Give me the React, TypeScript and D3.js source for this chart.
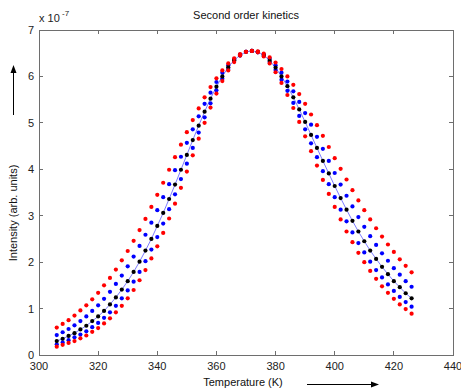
import * as d3 from "d3";

// temperature grid (K)
const temperature = [
  306, 308, 310, 312, 314, 316, 318, 320, 322, 324, 326, 328, 330, 332, 334, 336,
  338, 340, 342, 344, 346, 348, 350, 352, 354, 356, 358, 360, 362, 364, 366, 368,
  370, 372, 374, 376, 378, 380, 382, 384, 386, 388, 390, 392, 394, 396, 398, 400,
  402, 404, 406, 408, 410, 412, 414, 416, 418, 420, 422, 424, 426,
];

// intensities, in units of 1e-7
const redWide = [
  0.59, 0.67, 0.75, 0.85, 0.96, 1.07, 1.2, 1.34, 1.5, 1.66, 1.84, 2.04, 2.24, 2.46, 2.69, 2.93,
  3.19, 3.45, 3.71, 3.99, 4.26, 4.53, 4.8, 5.06, 5.31, 5.55, 5.77, 5.96, 6.13, 6.28, 6.39, 6.48,
  6.53, 6.55, 6.54, 6.49, 6.41, 6.3, 6.16, 6.0, 5.82, 5.62, 5.41, 5.18, 4.95, 4.72, 4.48, 4.24,
  4.01, 3.78, 3.55, 3.33, 3.12, 2.92, 2.73, 2.55, 2.38, 2.22, 2.06, 1.92, 1.78,
];
const blueWide = [
  0.43, 0.49, 0.56, 0.64, 0.73, 0.83, 0.95, 1.07, 1.21, 1.36, 1.53, 1.71, 1.91, 2.12, 2.35, 2.59,
  2.85, 3.12, 3.4, 3.68, 3.98, 4.27, 4.57, 4.86, 5.14, 5.41, 5.65, 5.88, 6.08, 6.24, 6.37, 6.47,
  6.53, 6.55, 6.53, 6.47, 6.38, 6.24, 6.08, 5.89, 5.68, 5.45, 5.21, 4.96, 4.7, 4.44, 4.18, 3.92,
  3.67, 3.43, 3.2, 2.97, 2.76, 2.56, 2.37, 2.19, 2.03, 1.87, 1.73, 1.59, 1.47,
];
const blackMid = [
  0.3, 0.35, 0.41, 0.47, 0.55, 0.63, 0.73, 0.83, 0.95, 1.09, 1.24, 1.41, 1.59, 1.79, 2.01, 2.25,
  2.5, 2.78, 3.06, 3.36, 3.67, 3.99, 4.31, 4.63, 4.94, 5.24, 5.52, 5.78, 6.0, 6.2, 6.35, 6.46,
  6.53, 6.55, 6.53, 6.46, 6.34, 6.19, 6.0, 5.79, 5.55, 5.29, 5.02, 4.74, 4.46, 4.18, 3.91, 3.64,
  3.38, 3.13, 2.89, 2.66, 2.45, 2.25, 2.07, 1.9, 1.74, 1.59, 1.46, 1.33, 1.22,
];
const blueNarrow = [
  0.23, 0.27, 0.32, 0.38, 0.44, 0.51, 0.6, 0.69, 0.8, 0.92, 1.06, 1.22, 1.39, 1.58, 1.79, 2.02,
  2.27, 2.54, 2.83, 3.14, 3.46, 3.79, 4.12, 4.46, 4.79, 5.12, 5.42, 5.7, 5.95, 6.16, 6.33, 6.45,
  6.53, 6.55, 6.52, 6.44, 6.31, 6.14, 5.93, 5.69, 5.43, 5.15, 4.86, 4.56, 4.26, 3.96, 3.68, 3.4,
  3.13, 2.88, 2.64, 2.41, 2.21, 2.01, 1.83, 1.67, 1.52, 1.38, 1.25, 1.14, 1.04,
];
const redNarrow = [
  0.18, 0.22, 0.26, 0.3, 0.36, 0.42, 0.5, 0.58, 0.68, 0.79, 0.92, 1.06, 1.22, 1.4, 1.61, 1.83,
  2.08, 2.34, 2.63, 2.94, 3.26, 3.6, 3.95, 4.3, 4.66, 5.0, 5.33, 5.63, 5.9, 6.13, 6.31, 6.45,
  6.53, 6.55, 6.52, 6.43, 6.28, 6.09, 5.86, 5.6, 5.32, 5.02, 4.71, 4.39, 4.08, 3.77, 3.47, 3.19,
  2.92, 2.66, 2.43, 2.2, 2.0, 1.81, 1.64, 1.48, 1.34, 1.21, 1.09, 0.99, 0.89,
];

const xTicks = [300, 320, 340, 360, 380, 400, 420, 440];
const yTicks = [0, 1, 2, 3, 4, 5, 6, 7];

// draw order: blue under black under red
const series = [
  { values: blueWide, color: "#0000ff" },
  { values: blueNarrow, color: "#0000ff" },
  { values: blackMid, color: "#000000" },
  { values: redWide, color: "#ff0000" },
  { values: redNarrow, color: "#ff0000" },
];

const W = 461;
const H = 392;
const left = 39, right = 453, top = 30, bottom = 355;
const font = "'Liberation Sans', Arial, Helvetica, sans-serif";

export default function App() {
  const x = d3.scaleLinear().domain([300, 440]).range([left, right]);
  const y = d3.scaleLinear().domain([0, 7]).range([bottom, top]);

  const fitLine = d3
    .line<number>()
    .x((_, i) => x(temperature[i]))
    .y((d) => y(d));

  const tl = 4;

  return (
    <svg
      width={W}
      height={H}
      style={{ position: "absolute", left: 0, top: 0, background: "#fff" }}
      fontFamily={font}
    >
      <rect x={0} y={0} width={W} height={H} fill="#fff" />

      {/* thin line through the middle curve */}
      <path d={fitLine(blackMid) || ""} fill="none" stroke="#5a5aff" strokeWidth={0.8} />

      {series.map((s, si) => (
        <g key={si} fill={s.color}>
          {s.values.map((v, i) => (
            <circle key={i} cx={x(temperature[i])} cy={y(v)} r={2.1} />
          ))}
        </g>
      ))}

      {/* box */}
      <rect
        x={left}
        y={top}
        width={right - left}
        height={bottom - top}
        fill="none"
        stroke="#6e6e6e"
        strokeWidth={1}
        shapeRendering="crispEdges"
      />

      {/* ticks, inward on all four sides */}
      <g stroke="#6e6e6e" shapeRendering="crispEdges">
        {xTicks.map((t) => (
          <g key={t}>
            <line x1={x(t)} x2={x(t)} y1={bottom} y2={bottom - tl} />
            <line x1={x(t)} x2={x(t)} y1={top} y2={top + tl} />
          </g>
        ))}
        {yTicks.map((t) => (
          <g key={t}>
            <line x1={left} x2={left + tl} y1={y(t)} y2={y(t)} />
            <line x1={right} x2={right - tl} y1={y(t)} y2={y(t)} />
          </g>
        ))}
      </g>

      <g fontSize={11} fill="#222">
        {xTicks.map((t) => (
          <text key={t} x={x(t)} y={370} textAnchor="middle">
            {t}
          </text>
        ))}
        {yTicks.map((t) => (
          <text key={t} x={left - 5} y={y(t) + 4} textAnchor="end">
            {t}
          </text>
        ))}
      </g>

      {/* exponent */}
      <text x={39} y={22} fontSize={11} fill="#222">
        x 10
      </text>
      <text x={62} y={16} fontSize={8} fill="#222">
        -7
      </text>

      {/* title */}
      <text x={246} y={19} fontSize={11} textAnchor="middle" fill="#111">
        Second order kinetics
      </text>

      {/* x label + arrow */}
      <text x={243} y={386} fontSize={11} textAnchor="middle" fill="#111">
        Temperature (K)
      </text>
      <line x1={307} x2={372} y1={384.5} y2={384.5} stroke="#000" strokeWidth={1} />
      <path d="M371,381.5 L379,384.5 L371,387.5 Z" fill="#000" />

      {/* y label + arrow */}
      <text
        transform="translate(17,213) rotate(-90)"
        fontSize={11}
        textAnchor="middle"
        fill="#111"
      >
        Intensity (arb. units)
      </text>
      <line x1={13.5} x2={13.5} y1={115} y2={72} stroke="#000" strokeWidth={1} />
      <path d="M10.5,73 L13.5,65 L16.5,73 Z" fill="#000" />
    </svg>
  );
}
